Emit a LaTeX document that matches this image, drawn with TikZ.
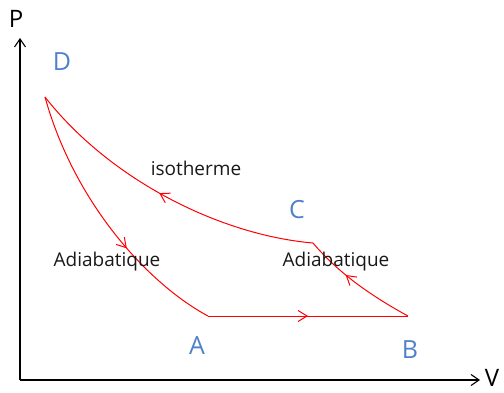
\documentclass[tikz,border=0pt]{standalone}
\usepackage{fontspec}
\setmainfont{Open Sans}
\usetikzlibrary{arrows.meta,decorations.markings}
\definecolor{lblblue}{RGB}{79,129,200}
\tikzset{
  axis/.style={line width=1.2pt,-{Straight Barb[length=8pt,width=11pt,line width=1.1pt]}},
  cyc/.style={red,line width=1pt},
  midarrow/.style={postaction={decorate,decoration={markings,
      mark=at position #1 with {\arrow{Straight Barb[length=9pt,width=11pt,line width=1pt]}}}}},
  ptlabel/.style={text=lblblue,font=\fontsize{25}{27}\selectfont,inner sep=0pt},
  axlabel/.style={text=black,font=\fontsize{24}{26}\selectfont,inner sep=0pt},
  txt/.style={text=black!90,font=\fontsize{19}{21}\selectfont,inner sep=0pt}
}
\begin{document}
\begin{tikzpicture}[x=1pt,y=-1pt]
\useasboundingbox (0,0) rectangle (504,392);
% axes
\coordinate (O) at (20,380);
\coordinate (Ptop) at (20,38);
\coordinate (Vend) at (480,380);
\draw[axis] (O) -- (Ptop);
\draw[axis] (O) -- (Vend);
\node[axlabel] (Plab) at (16,19) {P};
\node[axlabel] (Vlab) at (492,378) {V};
% cycle points
\coordinate (D) at (45,97);
\coordinate (C) at (313,243);
\coordinate (B) at (408,316);
\coordinate (A) at (208,316);
% isotherm C -> D
\draw[cyc,midarrow=0.52] (C) .. controls (220,235) and (110,180) .. (D);
% adiabatic D -> A
\draw[cyc,midarrow=0.62] (D) .. controls (75,205) and (150,285) .. (A);
% A -> B
\draw[cyc,midarrow=0.5] (A) -- (B);
% adiabatic B -> C
\draw[cyc,midarrow=0.62] (B) .. controls (375,298) and (340,275) .. (C);
% labels
\node[ptlabel] (Dlab) at (62,62) {D};
\node[ptlabel] (Clab) at (297,210) {C};
\node[ptlabel] (Alab) at (197,346) {A};
\node[ptlabel] (Blab) at (410,350) {B};
\node[txt] (iso) at (196,168) {isotherme};
\node[txt] (ad1) at (107,262) {Adiabatique};
\node[txt] (ad2) at (336,262) {Adiabatique};
\end{tikzpicture}
\end{document}
